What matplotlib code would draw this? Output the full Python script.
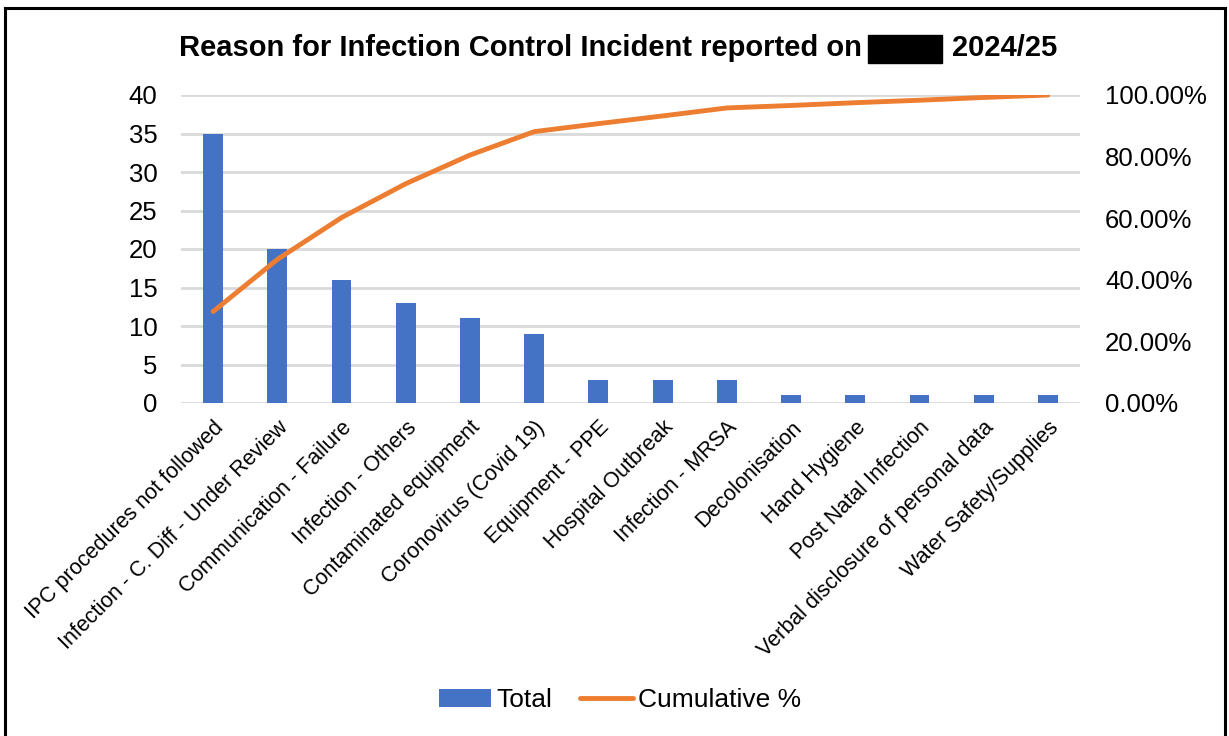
import matplotlib
matplotlib.use("Agg")
import matplotlib.pyplot as plt
from matplotlib.lines import Line2D
from matplotlib.patches import Rectangle
from matplotlib.ticker import FuncFormatter, MultipleLocator

plt.rcParams['font.family'] = ['Liberation Sans', 'DejaVu Sans']

categories = ['IPC procedures not followed', 'Infection - C. Diff - Under Review',
              'Communication - Failure', 'Infection - Others', 'Contaminated equipment',
              'Coronovirus (Covid 19)', 'Equipment - PPE', 'Hospital Outbreak',
              'Infection - MRSA', 'Decolonisation', 'Hand Hygiene', 'Post Natal Infection',
              'Verbal disclosure of personal data', 'Water Safety/Supplies']
totals = [35, 20, 16, 13, 11, 9, 3, 3, 3, 1, 1, 1, 1, 1]
cumulative_pct = [29.7, 46.6, 60.2, 71.2, 80.5, 88.1, 90.7, 93.2, 95.8, 96.6, 97.5, 98.3, 99.2, 100.0]

W, H = 1229, 736
fig = plt.figure(figsize=(W / 100, H / 100), dpi=100)
ax = fig.add_axes([181 / W, 1 - 403 / H, (1080 - 181) / W, (403 - 95) / H])

x = range(len(categories))
bars = ax.bar(x, totals, width=0.31, color='#4472C4', zorder=3, label='Total')
ax.set_xlim(-0.5, len(categories) - 0.5)
ax.set_ylim(0, 40)
ax.yaxis.set_major_locator(MultipleLocator(5))
ax.grid(axis='y', color='#D9D9D9', linewidth=2, zorder=0)
ax.set_axisbelow(True)
for s in ax.spines.values():
    s.set_visible(False)
ax.tick_params(axis='both', length=0, labelsize=18.5)
ax.tick_params(axis='y', pad=17)
ax.tick_params(axis='x', pad=10)
ax.set_xticks(list(x))
ax.set_xticklabels(categories, rotation=45, ha='right', rotation_mode='anchor', fontsize=15.5)

ax2 = ax.twinx()
line, = ax2.plot(x, cumulative_pct, color='#ED7D31', linewidth=3.5, zorder=4,
                 solid_capstyle='round', label='Cumulative %')
ax2.set_ylim(0, 100)
ax2.yaxis.set_major_locator(MultipleLocator(20))
ax2.yaxis.set_major_formatter(FuncFormatter(lambda v, p: '{:.2f}%'.format(v)))
for s in ax2.spines.values():
    s.set_visible(False)
ax2.tick_params(axis='y', length=0, labelsize=18.5, pad=18)

# title with redacted block
fig.text(862 / W, 1 - 48 / H, 'Reason for Infection Control Incident reported on',
         ha='right', va='center', fontsize=21, fontweight='bold')
fig.text(952 / W, 1 - 48 / H, '2024/25', ha='left', va='center',
         fontsize=21, fontweight='bold')
fig.add_artist(Rectangle((868 / W, 1 - 63 / H), 74 / W, 28 / H,
                         transform=fig.transFigure, color='black'))

fig.legend(handles=[bars, line], labels=['Total', 'Cumulative %'], loc='center',
           bbox_to_anchor=(620 / W, 1 - 700 / H), ncol=2, frameon=False, fontsize=19,
           handlelength=2.0, handletextpad=0.2, columnspacing=1.05)

# outer frame
fig.add_artist(Line2D([5 / W, 5 / W], [0, 1 - 8 / H], color='black', linewidth=2.2,
                      transform=fig.transFigure))
fig.add_artist(Line2D([1225 / W, 1225 / W], [0, 1 - 8 / H], color='black', linewidth=2.2,
                      transform=fig.transFigure))
fig.add_artist(Line2D([5 / W, 1225 / W], [1 - 8 / H, 1 - 8 / H], color='black',
                      linewidth=2.2, transform=fig.transFigure))

fig.savefig('out.png', dpi=100)
